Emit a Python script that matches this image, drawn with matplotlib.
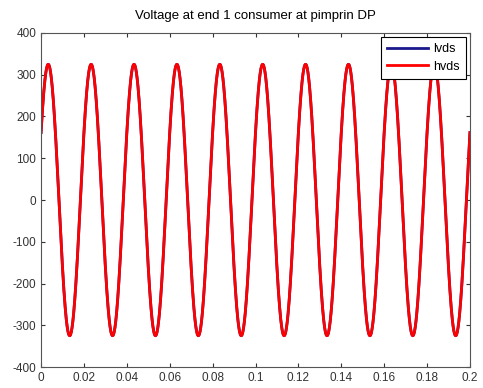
import numpy as np
import matplotlib
matplotlib.use('Agg')
from matplotlib import pyplot as plt

plt.rcParams['font.family'] = ['Liberation Sans', 'DejaVu Sans']
plt.rcParams['axes.unicode_minus'] = False

# waveform: 50 Hz, ~325 V peak, starts at ~160 V
series_names = ['lvds', 'hvds']
amplitude = [325, 325]
freq_hz = [50, 50]
phase_rad = [0.52, 0.52]
t_start, t_end = 0.0, 0.2

xticks = [0, 0.02, 0.04, 0.06, 0.08, 0.1, 0.12, 0.14, 0.16, 0.18, 0.2]
xticklabels = ['0', '0.02', '0.04', '0.06', '0.08', '0.1', '0.12', '0.14', '0.16', '0.18', '0.2']
yticks = [-400, -300, -200, -100, 0, 100, 200, 300, 400]

colors = ['#1a1a8c', '#ff0000']

t = np.linspace(t_start, t_end, 4001)

fig = plt.figure(figsize=(4.83, 3.88), dpi=100)
ax = fig.add_axes([0.085, 0.054, 0.888, 0.861])

for name, a, f, p, c in zip(series_names, amplitude, freq_hz, phase_rad, colors):
    ax.plot(t, a * np.sin(2 * np.pi * f * t + p), color=c, lw=2, label=name)

ax.set_xlim(t_start, t_end)
ax.set_ylim(-400, 400)
ax.set_xticks(xticks)
ax.set_xticklabels(xticklabels)
ax.set_yticks(yticks)
ax.tick_params(direction='in', top=True, right=True, labelsize=8.5, length=3, colors='#333333')
for s in ax.spines.values():
    s.set_color('#555555')
    s.set_linewidth(0.8)

ax.set_title('Voltage at end 1 consumer at pimprin DP', fontsize=9.5, pad=10)

leg = ax.legend(loc='upper right', fontsize=9, fancybox=False, framealpha=1,
                edgecolor='black', borderaxespad=0.3, handlelength=3.3,
                borderpad=0.5, labelspacing=0.45, handletextpad=0.4)
leg.get_frame().set_linewidth(0.8)

fig.savefig('out.png', dpi=100)
